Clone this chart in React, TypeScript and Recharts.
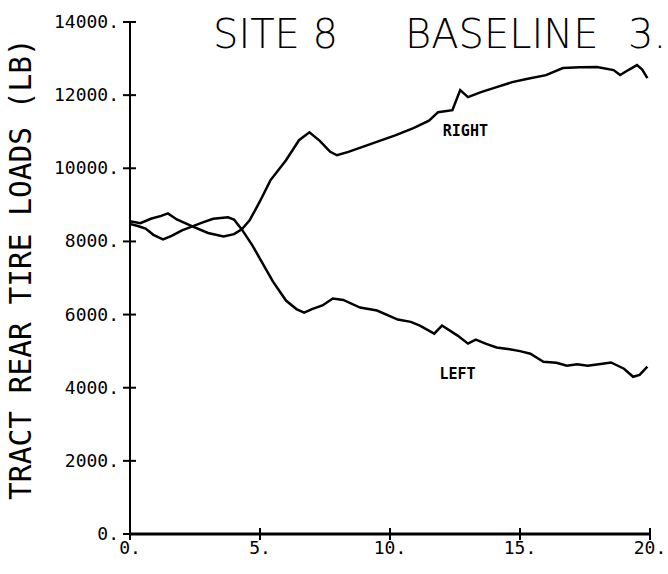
import React from 'react';
import { LineChart, Line, XAxis, YAxis, ReferenceDot, Label } from 'recharts';

// tick values
const xTicks = [0, 5, 10, 15, 20];
const yTicks = [0, 2000, 4000, 6000, 8000, 10000, 12000, 14000];

// time (s) and load (lb)
const leftTime = [0, 0.3, 0.6, 0.9, 1.27, 1.6, 2.0, 2.4, 2.8, 3.2, 3.77, 4.0, 4.3, 4.7, 5.1, 5.5, 6.0, 6.4, 6.7, 7.0, 7.4, 7.8, 8.2, 8.85, 9.5, 10.3, 10.8, 11.15, 11.7, 12.0, 12.6, 13.0, 13.3, 13.7, 14.1, 14.6, 15.0, 15.4, 15.9, 16.4, 16.8, 17.2, 17.6, 18.1, 18.5, 19.0, 19.35, 19.6, 19.9];
const leftLoad = [8480, 8420, 8350, 8180, 8055, 8150, 8300, 8410, 8520, 8620, 8660, 8600, 8330, 7900, 7400, 6900, 6384, 6150, 6055, 6150, 6250, 6438, 6400, 6192, 6110, 5863, 5800, 5700, 5480, 5700, 5425, 5205, 5315, 5200, 5100, 5050, 5000, 4930, 4710, 4680, 4600, 4640, 4600, 4650, 4690, 4520, 4300, 4350, 4575];

const rightTime = [0, 0.4, 0.8, 1.2, 1.46, 1.8, 2.4, 3.0, 3.6, 4.0, 4.3, 4.6, 5.0, 5.4, 6.0, 6.5, 6.9, 7.3, 7.7, 7.96, 8.4, 9.0, 9.6, 10.2, 10.9, 11.5, 11.85, 12.4, 12.7, 13.0, 13.5, 14.1, 14.7, 15.3, 16.0, 16.65, 17.3, 17.96, 18.6, 18.85, 19.2, 19.5, 19.7, 19.9];
const rightLoad = [8550, 8500, 8620, 8700, 8767, 8600, 8410, 8230, 8137, 8200, 8330, 8575, 9100, 9670, 10220, 10767, 10986, 10750, 10450, 10356, 10450, 10600, 10750, 10900, 11100, 11300, 11534, 11589, 12137, 11945, 12082, 12220, 12356, 12450, 12548, 12740, 12760, 12767, 12685, 12548, 12700, 12822, 12700, 12466];

const leftData = leftTime.map((t, i) => ({ t, load: leftLoad[i] }));
const rightData = rightTime.map((t, i) => ({ t, load: rightLoad[i] }));

const mono = '"DejaVu Sans Mono", monospace';

const YTick = (props: any) => {
    const { x, y, payload } = props;
    return (
        <g>
            <line x1={x - 7} x2={x + 6} y1={y} y2={y} stroke="#000" strokeWidth={2} />
            <text x={x - 11} y={y} dy={6} textAnchor="end" fontFamily={mono} fontSize={18} fill="#000">
                {`${payload.value}.`}
            </text>
        </g>
    );
};

const XTick = (props: any) => {
    const { x, y, payload } = props;
    return (
        <g>
            <line x1={x} x2={x} y1={y - 6} y2={y + 6} stroke="#000" strokeWidth={2} />
            <text x={x} y={y + 20} textAnchor="middle" fontFamily={mono} fontSize={18} fill="#000">
                {`${payload.value}.`}
            </text>
        </g>
    );
};

const YTitle = (props: any) => {
    const { viewBox } = props;
    const cx = 21;
    const cy = viewBox.y + viewBox.height / 2 - 9;
    return (
        <text
            x={cx}
            y={cy}
            transform={`rotate(-90, ${cx}, ${cy})`}
            textAnchor="middle"
            dominantBaseline="central"
            fontFamily={mono}
            fontSize={29.5}
            fill="#000"
        >
            TRACT REAR TIRE LOADS (LB)
        </text>
    );
};

const curveTag = (text: string) => (props: any) => {
    const { viewBox } = props;
    return (
        <text
            x={viewBox.x + viewBox.width / 2}
            y={viewBox.y + viewBox.height / 2}
            textAnchor="middle"
            dominantBaseline="central"
            fontFamily={mono}
            fontWeight="bold"
            fontSize={15}
            fill="#000"
        >
            {text}
        </text>
    );
};

export default function App() {
    return (
        <div style={{ position: 'fixed', left: 0, top: 0, width: 668, height: 574, background: '#fff', overflow: 'hidden' }}>
            <LineChart width={668} height={574} margin={{ top: 22, right: 18, bottom: 0, left: 0 }}>
                <XAxis
                    type="number"
                    dataKey="t"
                    domain={[0, 20]}
                    ticks={xTicks}
                    height={40}
                    tickSize={0}
                    tickMargin={0}
                    tick={<XTick />}
                    axisLine={{ stroke: '#000', strokeWidth: 3 }}
                    tickLine={false}
                    allowDataOverflow
                />
                <YAxis
                    type="number"
                    domain={[0, 14000]}
                    ticks={yTicks}
                    width={130}
                    tickSize={0}
                    tickMargin={0}
                    tick={<YTick />}
                    axisLine={{ stroke: '#000', strokeWidth: 2 }}
                    tickLine={false}
                >
                    <Label content={<YTitle />} />
                </YAxis>
                <Line data={leftData} dataKey="load" type="linear" stroke="#000" strokeWidth={2.5} dot={false} isAnimationActive={false} />
                <Line data={rightData} dataKey="load" type="linear" stroke="#000" strokeWidth={2.5} dot={false} isAnimationActive={false} />
                <ReferenceDot x={12.9} y={11014} r={0} stroke="none" label={curveTag('RIGHT')} />
                <ReferenceDot x={12.6} y={4384} r={0} stroke="none" label={curveTag('LEFT')} />
            </LineChart>
            <svg width={668} height={70} style={{ position: 'absolute', left: 0, top: 0, pointerEvents: 'none' }}>
                <text y={48} fontFamily='"DejaVu Sans", sans-serif' fontWeight={200} fontSize={40} fill="#000">
                    <tspan x={213}>SITE 8</tspan>
                    <tspan x={405}>BASELINE</tspan>
                    <tspan x={628}>3.</tspan>
                </text>
            </svg>
        </div>
    );
}
